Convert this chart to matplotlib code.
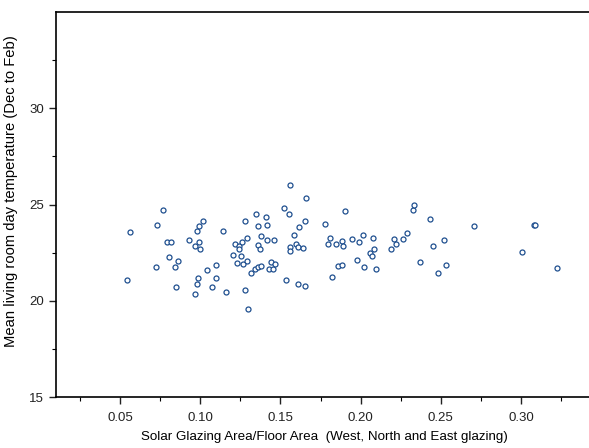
import numpy as np
import matplotlib.pyplot as plt

plt.rcParams['font.family'] = ['Liberation Sans', 'DejaVu Sans']

# glazing ratio (west, north and east) vs mean living room day temperature
glazing = [0.0540, 0.0564, 0.0721, 0.0733, 0.0769, 0.0794, 0.0817, 0.0808, 0.0844, 0.0846,
           0.0863, 0.0928, 0.0965, 0.0965, 0.0979, 0.0978, 0.0986, 0.0989, 0.0991, 0.0998,
           0.1016, 0.1039, 0.1073, 0.1096, 0.1096, 0.1143, 0.1159, 0.1205, 0.1215, 0.1231,
           0.1239, 0.1242, 0.1257, 0.1262, 0.1267, 0.1276, 0.1278, 0.1289, 0.1294, 0.1300,
           0.1319, 0.1339, 0.1347, 0.1357, 0.1358, 0.1359, 0.1372, 0.1376, 0.1377, 0.1411,
           0.1419, 0.1419, 0.1426, 0.1444, 0.1453, 0.1460, 0.1468, 0.1522, 0.1534, 0.1554,
           0.1558, 0.1560, 0.1562, 0.1583, 0.1595, 0.1611, 0.1612, 0.1615, 0.1639, 0.1651,
           0.1651, 0.1658, 0.1780, 0.1794, 0.1807, 0.1819, 0.1845, 0.1859, 0.1884, 0.1884,
           0.1893, 0.1901, 0.1947, 0.1976, 0.1992, 0.2012, 0.2022, 0.2057, 0.2073, 0.2077,
           0.2083, 0.2094, 0.2190, 0.2206, 0.2223, 0.2262, 0.2290, 0.2324, 0.2334, 0.2368,
           0.2432, 0.2449, 0.2481, 0.2521, 0.2535, 0.2707, 0.3004, 0.3082, 0.3086, 0.3222]
temp = [21.07, 23.59, 21.74, 23.93, 24.70, 23.07, 23.07, 22.28, 21.73, 20.74,
        22.09, 23.16, 22.83, 20.33, 23.63, 20.89, 21.16, 23.89, 23.03, 22.67,
        24.12, 21.61, 20.74, 21.88, 21.16, 23.63, 20.47, 22.36, 22.94, 21.97,
        22.83, 22.71, 22.33, 23.03, 21.93, 20.55, 24.12, 23.24, 22.04, 19.59,
        21.45, 21.65, 24.50, 22.90, 21.76, 23.89, 22.71, 23.34, 21.78, 24.33,
        23.95, 23.16, 21.64, 22.00, 21.64, 23.18, 21.91, 24.81, 21.10, 24.53,
        22.80, 25.99, 22.57, 23.40, 22.94, 22.81, 20.89, 23.83, 22.76, 24.12,
        20.78, 25.33, 23.98, 22.97, 23.28, 21.23, 22.93, 21.80, 23.10, 21.88,
        22.83, 24.65, 23.20, 22.12, 23.03, 23.42, 21.74, 22.48, 22.31, 23.24,
        22.69, 21.66, 22.69, 23.21, 22.97, 23.19, 23.52, 24.69, 24.98, 22.02,
        24.24, 22.87, 21.45, 23.14, 21.84, 23.86, 22.55, 23.91, 23.91, 21.69]

xticks = [0.05, 0.10, 0.15, 0.20, 0.25, 0.30]
yticks = [15, 20, 25, 30]

fig = plt.figure(figsize=(5.89, 4.48), dpi=100)
ax = fig.add_axes([0.095, 0.1138, 0.912, 0.8594])

ax.plot(glazing, temp, 'o', ms=3.6, mfc='white', mec='#1f4f8f', mew=0.9)

ax.set_xlim(0.01, 0.345)
ax.set_ylim(15, 35)
ax.set_xticks(xticks)
ax.set_xticklabels(['%.2f' % t for t in xticks])
ax.set_xticks([0.025, 0.075, 0.125, 0.175, 0.225, 0.275, 0.325], minor=True)
ax.set_yticks(yticks)
ax.set_yticks([17.5, 22.5, 27.5, 32.5], minor=True)

ax.spines['right'].set_visible(False)
for s in ['left', 'top', 'bottom']:
    ax.spines[s].set_linewidth(1.2)
ax.tick_params(which='major', direction='out', length=5, width=1, labelsize=9.5, colors='#222222')
ax.tick_params(which='minor', direction='out', length=3, width=0.8)
ax.tick_params(axis='x', pad=6)

ax.set_xlabel('Solar Glazing Area/Floor Area  (West, North and East glazing)', fontsize=9.6, labelpad=5)
ax.set_ylabel('Mean living room day temperature (Dec to Feb)', fontsize=10.6)
ax.yaxis.set_label_coords(-0.071, 0.535)

fig.savefig('out.png', dpi=100)
